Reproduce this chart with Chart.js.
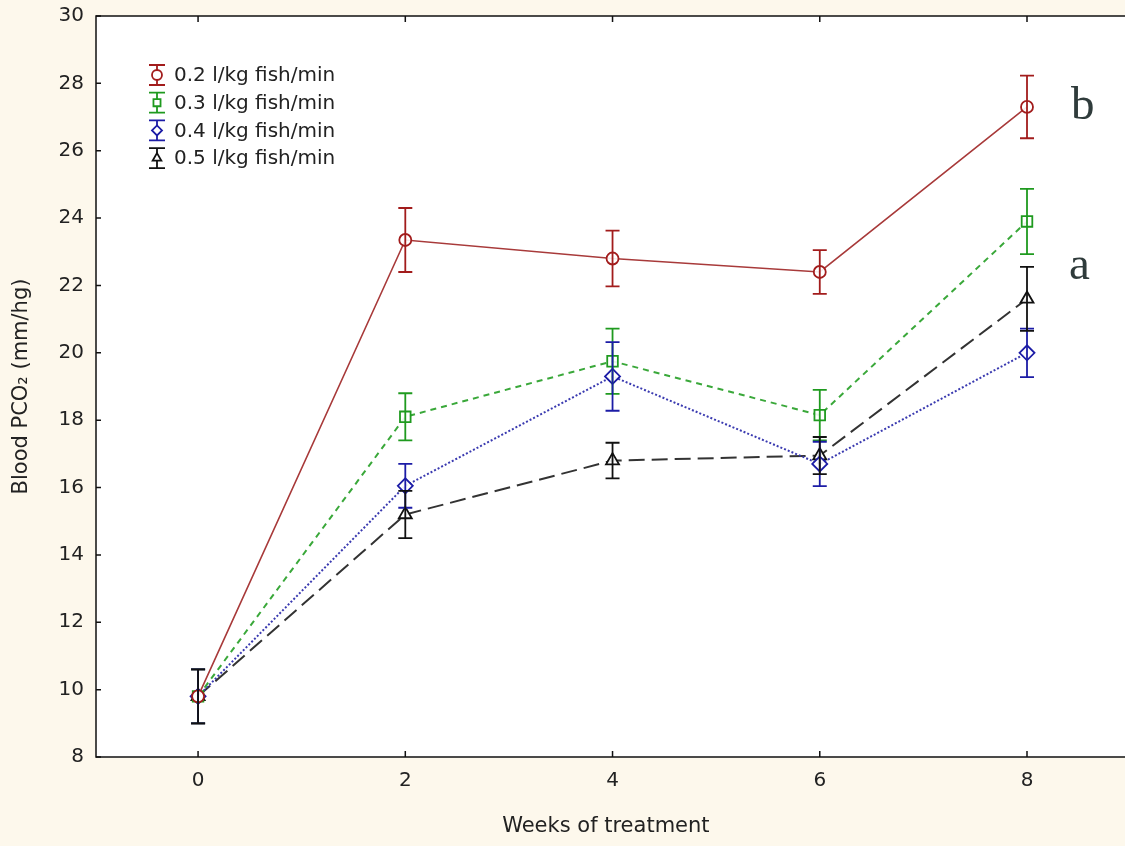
<!DOCTYPE html>
<html lang="en">
<head>
<meta charset="UTF-8">
<title>Blood PCO2 vs weeks of treatment</title>
<script src="https://cdn.jsdelivr.net/npm/chart.js@4.4.0/dist/chart.umd.min.js"></script>
<style>
    html, body { margin: 0; padding: 0; background: #fdf8ec; }
    #wrap { position: relative; width: 1125px; height: 846px; overflow: hidden; }
    .tag { position: absolute; font-family: 'Liberation Serif', serif; font-size: 47px; color: #2f3b3b; line-height: 1; }
</style>
</head>
<body>
<div id="wrap">
    <canvas id="pco2Chart" width="1125" height="846"></canvas>
    <div class="tag" style="left:1071px; top:80px;">b</div>
    <div class="tag" style="left:1069px; top:240px;">a</div>
</div>
<script>
// weeks on x axis
const weeks = [0, 2, 4, 6, 8];
const yTicks = [8, 10, 12, 14, 16, 18, 20, 22, 24, 26, 28, 30];

// mean blood PCO2 and error half-widths
const mean02 = [9.8, 23.35, 22.8, 22.4, 27.3];
const err02  = [0.8, 0.95, 0.83, 0.65, 0.93];
const mean03 = [9.8, 18.1, 19.75, 18.15, 23.9];
const err03  = [0.8, 0.7, 0.97, 0.75, 0.97];
const mean04 = [9.8, 16.05, 19.3, 16.7, 20.0];
const err04  = [0.8, 0.65, 1.02, 0.66, 0.72];
const mean05 = [9.8, 15.2, 16.8, 16.95, 21.6];
const err05  = [0.8, 0.7, 0.53, 0.55, 0.95];

const seriesLabels = ['0.2 l/kg fish/min', '0.3 l/kg fish/min', '0.4 l/kg fish/min', '0.5 l/kg fish/min'];
const colors = ['#a21c1c', '#1f9a1f', '#1c1ca6', '#111111'];
const lineColors = ['#a83a3a', '#3aa83a', '#3a3ab0', '#333333'];
const dashes = [[], [6, 5], [2, 2], [16, 7]];
const shapes = ['circle', 'rect', 'rectRot', 'triangle'];
const means = [mean02, mean03, mean04, mean05];
const errs = [err02, err03, err04, err05];

const FONT = "'DejaVu Sans', 'Liberation Sans', sans-serif";

const datasets = means.map((m, i) => ({
    label: seriesLabels[i],
    data: weeks.map((w, j) => ({ x: w, y: m[j] })),
    borderColor: lineColors[i],
    borderWidth: i === 0 ? 1.6 : 2,
    borderDash: dashes[i],
    pointStyle: shapes[i],
    pointRadius: i === 0 ? 6 : 7.5,
    pointBorderColor: colors[i],
    pointBackgroundColor: 'rgba(255,255,255,0.9)',
    pointBorderWidth: 1.8,
    tension: 0,
    errs: errs[i]
}));

// white plot area + frame + inward ticks (frame runs off the right edge)
const framePlugin = {
    id: 'frame',
    beforeDatasetsDraw(chart) {
        const { ctx, chartArea: a } = chart;
        ctx.save();
        ctx.fillStyle = '#ffffff';
        ctx.fillRect(a.left, a.top, chart.width - a.left, a.bottom - a.top);
        ctx.restore();
    },
    afterDraw(chart) {
        const { ctx, chartArea: a, scales } = chart;
        ctx.save();
        ctx.strokeStyle = '#111';
        ctx.lineWidth = 1.5;
        ctx.beginPath();
        ctx.moveTo(chart.width, a.top);
        ctx.lineTo(a.left, a.top);
        ctx.lineTo(a.left, a.bottom);
        ctx.lineTo(chart.width, a.bottom);
        ctx.stroke();
        ctx.beginPath();
        yTicks.forEach(v => {
            const y = scales.y.getPixelForValue(v);
            ctx.moveTo(a.left, y);
            ctx.lineTo(a.left + 5, y);
        });
        weeks.forEach(v => {
            const x = scales.x.getPixelForValue(v);
            ctx.moveTo(x, a.bottom);
            ctx.lineTo(x, a.bottom - 6);
            ctx.moveTo(x, a.top);
            ctx.lineTo(x, a.top + 6);
        });
        ctx.stroke();
        ctx.restore();
    }
};

// error bars
const errorBarPlugin = {
    id: 'errorBars',
    afterDatasetsDraw(chart) {
        const { ctx, scales } = chart;
        ctx.save();
        ctx.lineWidth = 1.8;
        chart.data.datasets.forEach((ds, i) => {
            ctx.strokeStyle = colors[i];
            ds.data.forEach((p, j) => {
                const x = scales.x.getPixelForValue(p.x);
                const yt = scales.y.getPixelForValue(p.y + ds.errs[j]);
                const yb = scales.y.getPixelForValue(p.y - ds.errs[j]);
                ctx.beginPath();
                ctx.moveTo(x, yt); ctx.lineTo(x, yb);
                ctx.moveTo(x - 7, yt); ctx.lineTo(x + 7, yt);
                ctx.moveTo(x - 7, yb); ctx.lineTo(x + 7, yb);
                ctx.stroke();
            });
        });
        ctx.restore();
    }
};

// legend with error-bar icons
const legendPlugin = {
    id: 'ebLegend',
    afterDraw(chart) {
        const { ctx } = chart;
        ctx.save();
        ctx.font = '20px ' + FONT;
        ctx.textBaseline = 'middle';
        seriesLabels.forEach((lab, i) => {
            const cy = 75 + i * 27.7;
            const cx = 157;
            ctx.strokeStyle = colors[i];
            ctx.lineWidth = 1.8;
            ctx.beginPath();
            ctx.moveTo(cx, cy - 10); ctx.lineTo(cx, cy + 10);
            ctx.moveTo(cx - 8, cy - 10); ctx.lineTo(cx + 8, cy - 10);
            ctx.moveTo(cx - 8, cy + 10); ctx.lineTo(cx + 8, cy + 10);
            ctx.stroke();
            ctx.fillStyle = '#ffffff';
            Chart.helpers.drawPoint(ctx, {
                pointStyle: shapes[i], radius: 5, borderWidth: 1.6
            }, cx, cy);
            ctx.fillStyle = '#222';
            ctx.fillText(lab, 174, cy + 1);
        });
        ctx.restore();
    }
};

new Chart(document.getElementById('pco2Chart'), {
    type: 'line',
    data: { datasets },
    options: {
        responsive: false,
        animation: false,
        layout: { padding: { top: 16, right: 0, left: 0, bottom: 0 } },
        plugins: {
            legend: { display: false },
            tooltip: { enabled: false }
        },
        scales: {
            x: {
                type: 'linear',
                min: -0.985,
                max: 8.856,
                afterFit: s => { s.height = 89; s.paddingLeft = 0; s.paddingRight = 0; },
                afterBuildTicks: s => { s.ticks = weeks.map(v => ({ value: v })); },
                grid: { display: false, drawTicks: false },
                border: { display: false },
                ticks: { color: '#222', font: { family: FONT, size: 20 }, padding: 12 },
                title: {
                    display: true, text: 'Weeks of treatment', color: '#222',
                    font: { family: FONT, size: 21 }, padding: { top: 0, bottom: 7 }
                }
            },
            y: {
                min: 8,
                max: 30,
                afterFit: s => { s.width = 96; s.paddingTop = 0; s.paddingBottom = 0; },
                afterBuildTicks: s => { s.ticks = yTicks.map(v => ({ value: v })); },
                grid: { display: false, drawTicks: false },
                border: { display: false },
                ticks: { color: '#222', font: { family: FONT, size: 20 }, padding: 12 },
                title: {
                    display: true, text: 'Blood PCO\u2082 (mm/hg)', color: '#222',
                    font: { family: FONT, size: 21 }, padding: { top: 9, bottom: 0 }
                }
            }
        }
    },
    plugins: [framePlugin, errorBarPlugin, legendPlugin]
});
</script>
</body>
</html>
